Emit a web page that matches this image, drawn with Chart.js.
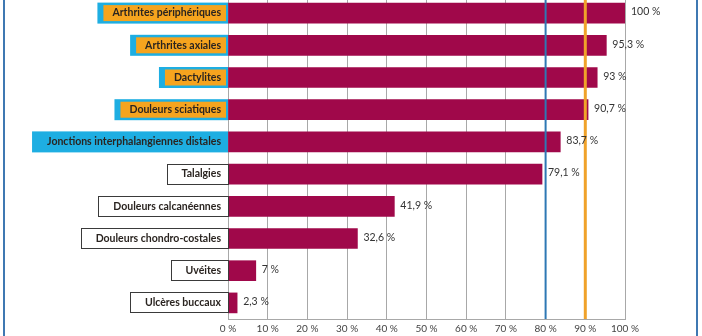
<!DOCTYPE html>
<html lang="fr">
<head>
    <meta charset="UTF-8">
    <title>Manifestations cliniques</title>
    <script src="https://cdn.jsdelivr.net/npm/chart.js"></script>
    <style>
        html, body {
            margin: 0;
            padding: 0;
            background: #fff;
        }
        #cadre {
            position: relative;
            width: 702px;
            height: 336px;
            overflow: hidden;
        }
        /* filets verticaux du cadre */
        #cadre::before, #cadre::after {
            content: "";
            position: absolute;
            top: 0;
            bottom: 0;
            width: 2px;
            background: #3f78b2;
        }
        #cadre::before { left: 3px; }
        #cadre::after { left: 696px; }
        #graphique {
            position: absolute;
            left: 0;
            top: -3px;
        }
    </style>
</head>
<body>
    <div id="cadre">
        <canvas id="graphique" width="702" height="339"></canvas>
    </div>
    <script>
        // données (pourcentages)
        const categories = [
            'Arthrites périphériques',
            'Arthrites axiales',
            'Dactylites',
            'Douleurs sciatiques',
            'Jonctions interphalangiennes distales',
            'Talalgies',
            'Douleurs calcanéennes',
            'Douleurs chondro-costales',
            'Uvéites',
            'Ulcères buccaux'
        ];
        const pourcentages = [100, 95.3, 93, 90.7, 83.7, 79.1, 41.9, 32.6, 7, 2.3];
        // groupe de mise en évidence de chaque étiquette
        const groupes = ['orange', 'orange', 'orange', 'orange', 'bleu', 'aucun', 'aucun', 'aucun', 'aucun', 'aucun'];
        const graduations = [0, 10, 20, 30, 40, 50, 60, 70, 80, 90, 100];
        const seuils = [80, 90];

        const bordeaux = '#a0084a';
        const cyan = '#1eaee2';
        const orange = '#f6a41e';
        const couleursSeuils = ['#2e78b4', '#f0a22a'];
        const policeEtiquette = 'bold 10.5px Lato, sans-serif';
        const policeValeur = '10.5px Lato, sans-serif';

        const fmt = v => String(v).replace('.', ',') + ' %';

        // étiquettes encadrées à gauche des barres
        const etiquettes = {
            id: 'etiquettes',
            afterDraw(chart) {
                const ctx = chart.ctx;
                const y = chart.scales.y;
                const x0 = chart.scales.x.getPixelForValue(0);
                ctx.save();
                ctx.font = policeEtiquette;
                ctx.textBaseline = 'middle';
                ctx.textAlign = 'right';
                categories.forEach((nom, i) => {
                    const cy = y.getPixelForValue(i);
                    const w = ctx.measureText(nom).width;
                    const gauche = x0 - w - 22;
                    const haut = cy - 10.5, h = 21;
                    if (groupes[i] === 'orange') {
                        ctx.fillStyle = cyan;
                        ctx.fillRect(gauche, haut, x0 - gauche, h);
                        ctx.fillStyle = orange;
                        ctx.fillRect(gauche + 6, haut + 2.5, x0 - gauche - 8, h - 5);
                    } else if (groupes[i] === 'bleu') {
                        ctx.fillStyle = cyan;
                        ctx.fillRect(gauche, haut, x0 - gauche, h);
                    } else {
                        ctx.fillStyle = '#fff';
                        ctx.fillRect(gauche, haut, x0 - gauche, h);
                        ctx.strokeStyle = '#3a3a3a';
                        ctx.lineWidth = 1;
                        ctx.strokeRect(Math.round(gauche) + 0.5, Math.round(haut) + 0.5, x0 - Math.round(gauche), h - 1);
                    }
                    ctx.fillStyle = '#2a2420';
                    ctx.fillText(nom, x0 - 7, cy);
                });
                ctx.restore();
            }
        };

        // lignes de seuil et valeurs au bout des barres
        const reperes = {
            id: 'reperes',
            afterDatasetsDraw(chart) {
                const ctx = chart.ctx;
                const sx = chart.scales.x;
                const sy = chart.scales.y;
                const area = chart.chartArea;
                ctx.save();
                seuils.forEach((s, k) => {
                    const px = sx.getPixelForValue(s);
                    ctx.strokeStyle = couleursSeuils[k];
                    ctx.lineWidth = k === 0 ? 2 : 3;
                    ctx.beginPath();
                    ctx.moveTo(px, area.top);
                    ctx.lineTo(px, area.bottom);
                    ctx.stroke();
                });
                ctx.font = policeValeur;
                ctx.fillStyle = '#333';
                ctx.textAlign = 'left';
                ctx.textBaseline = 'middle';
                pourcentages.forEach((v, i) => {
                    ctx.fillText(fmt(v), sx.getPixelForValue(v) + 6, sy.getPixelForValue(i) - 1);
                });
                ctx.restore();
            }
        };

        new Chart(document.getElementById('graphique'), {
            type: 'bar',
            data: {
                labels: categories,
                datasets: [{
                    data: pourcentages,
                    backgroundColor: bordeaux,
                    borderWidth: 0,
                    barThickness: 20
                }]
            },
            options: {
                indexAxis: 'y',
                responsive: false,
                animation: false,
                events: [],
                layout: { padding: { left: 228, right: 77, top: 0, bottom: 0 } },
                plugins: {
                    legend: { display: false },
                    tooltip: { enabled: false }
                },
                scales: {
                    x: {
                        min: 0,
                        max: 100,
                        afterBuildTicks: axis => {
                            axis.ticks = graduations.map(v => ({ value: v }));
                        },
                        afterFit: axis => { axis.height = 17; },
                        grid: {
                            color: '#a8a8a8',
                            lineWidth: 1,
                            drawTicks: false
                        },
                        border: { display: true, color: '#a8a8a8' },
                        ticks: {
                            padding: 4,
                            color: '#444',
                            font: { family: 'Lato, sans-serif', size: 10 },
                            callback: v => v + ' %'
                        }
                    },
                    y: {
                        display: false
                    }
                }
            },
            plugins: [reperes, etiquettes]
        });
    </script>
</body>
</html>
